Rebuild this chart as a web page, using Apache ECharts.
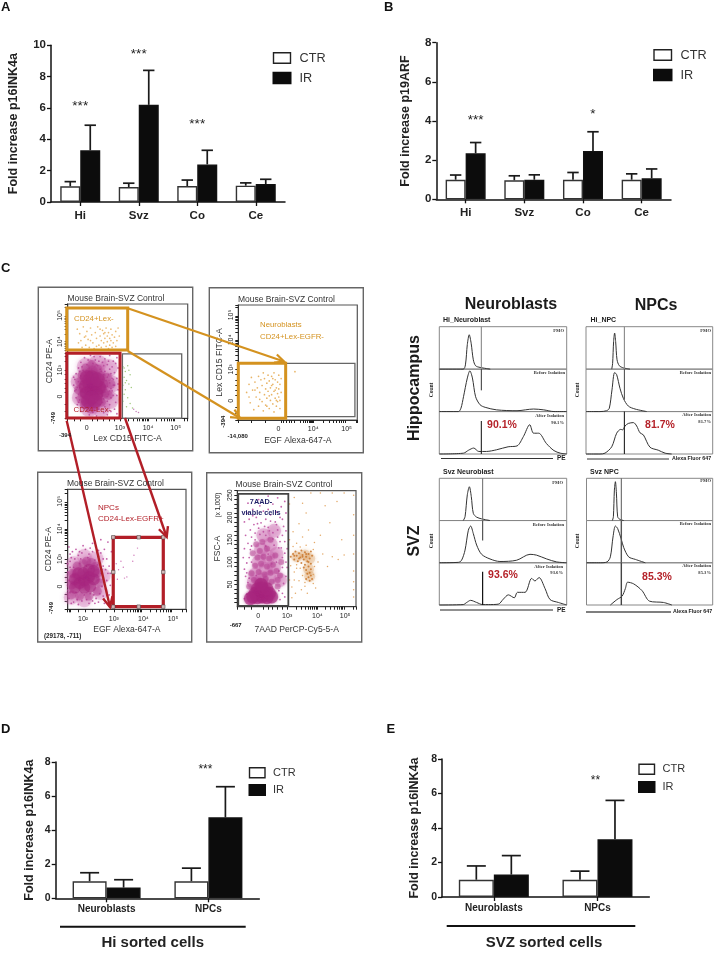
<!DOCTYPE html>
<html><head><meta charset="utf-8">
<style>html,body{margin:0;padding:0;background:#fff}#c{width:718px;height:954px}</style>
<script src="https://cdn.jsdelivr.net/npm/echarts@6/dist/echarts.min.js"></script>
</head><body><div id="c"></div>
<script>
// ---------- bar chart data ----------
const tissues = ['Hi','Svz','Co','Ce'];
const sorted = ['Neuroblasts','NPCs'];
const aCtr = [1.0,0.95,1.02,1.04], aCtrTop = [1.3,1.2,1.4,1.22];
const aIr  = [3.3,6.2,2.4,1.15],  aIrTop  = [4.9,8.4,3.3,1.45];
const bCtr = [1.0,0.97,1.0,1.0],  bCtrTop = [1.24,1.2,1.37,1.3];
const bIr  = [2.35,1.0,2.47,1.07],bIrTop  = [2.9,1.25,3.45,1.55];
const dCtr = [1.0,1.0],  dCtrTop = [1.5,1.77];
const dIr  = [0.63,4.75],dIrTop  = [1.09,6.55];
const eCtr = [1.0,1.0],  eCtrTop = [1.8,1.5];
const eIr  = [1.3,3.35], eIrTop  = [2.4,5.6];
const aStars = [[0,6.23,'***'],[1,9.55,'***'],[2,5.04,'***']];
const bStars = [[0,4.1,'***'],[2,4.4,'*']];
const dStars = [[1,7.62,'***']];
const eStars = [[1,6.85,'**']];

// ---------- FACS dots (axis units) ----------
const p1Orange = [[8,78],[10,74],[11,68],[13,80],[14,71],[15,64],[16,76],[17,69],[18,62],[19,79],[20,73],[21,66],[22,61],[23,75],[24,70],[25,80],[26,64],[27,72],[28,68],[28,62],[29,77],[30,74],[30,66],[31,70],[32,63],[32,79],[33,72],[33,67],[34,75],[34,61],[35,70],[35,64],[36,78],[36,68],[37,73],[37,62],[38,66],[39,71],[40,76],[40,63],[41,68],[42,79],[43,72],[12,62],[9,66],[24,63],[27,78],[31,75],[19,68],[15,72]];
const p1Halo = [[14,53],[19,55],[23,51],[27,54],[31,52],[35,55],[38,50],[41,53],[11,49],[16,47],[21,48],[25,46],[29,49],[33,47],[37,45],[40,48],[9,44],[13,42],[18,44],[27,43],[31,41],[35,43],[39,40],[42,44],[7,39],[11,37],[15,40],[30,38],[33,36],[36,39],[41,35],[6,34],[9,32],[13,35],[32,33],[35,31],[38,34],[42,30],[5,29],[8,27],[11,30],[33,28],[36,26],[39,29],[42,25],[6,24],[9,21],[12,25],[31,23],[34,21],[37,24],[41,20],[7,18],[10,16],[13,19],[30,17],[33,15],[36,18],[40,14],[8,12],[12,10],[15,13],[19,11],[23,14],[27,12],[31,10],[35,12],[39,8],[11,6],[16,7],[21,5],[26,8],[30,5],[36,6],[18,3],[24,2],[33,3],[41,4],[17,51],[22,54],[26,50],[30,46],[34,50],[20,43],[24,47],[28,41],[12,45],[10,41],[14,37],[29,34],[34,38],[37,35],[31,28],[38,29],[35,24],[33,19],[38,20],[29,14],[25,8],[32,7],[14,9],[18,7],[9,14],[7,25],[10,27],[5,36]];
const p1Wash = [[15,45],[25,48],[34,44],[10,32],[36,30],[11,18],[35,16],[18,9],[28,9],[24,40],[30,25]];
const p1Mid = [[12,38],[15,44],[20,47],[25,43],[28,37],[30,30],[31,22],[28,14],[23,10],[17,12],[11,17],[9,25],[10,32],[18,40],[24,37],[29,26],[14,12],[26,19],[33,36],[36,30],[34,20],[21,42],[16,34],[13,22],[19,8]];
const p1Core = [[20,25],[16,22],[24,22],[18,30],[23,30],[15,28],[26,27],[20,18],[17,15],[23,15],[20,36],[16,36],[25,34]];
const p1Green = [[46,45],[48,41],[50,46],[47,36],[52,38],[49,33],[46,29],[51,30],[48,25],[53,27],[47,21],[50,18],[46,15],[52,13],[49,10],[54,9],[47,44],[51,42],[48,31]];
const p1Purple = [[55,8],[57,6],[59,5]];
const p2Orange = [[7,24],[9,31],[10,15],[11,37],[12,26],[13,9],[14,33],[15,20],[16,28],[17,12],[17,38],[18,24],[19,35],[20,16],[20,30],[21,8],[21,41],[22,22],[22,36],[23,27],[23,13],[24,32],[24,19],[25,39],[25,25],[26,10],[26,34],[27,17],[27,28],[28,22],[28,38],[29,14],[29,31],[30,25],[30,7],[30,41],[31,19],[31,35],[32,28],[32,12],[33,23],[33,33],[33,16],[34,39],[34,27],[34,20],[35,10],[35,31],[36,24],[36,36],[18,18],[14,26],[9,20],[26,21],[29,36],[31,26],[32,17],[24,12],[28,30],[35,17],[47.6,42]];
const p3Core = [[6,25],[10,22],[14,24],[18,27],[22,25],[13,30],[18,33],[22,32],[9,30],[14,18],[19,19],[6,18]];
const p3Mid = [[3,20],[4,30],[8,36],[13,38],[20,39],[25,30],[27,22],[25,15],[18,11],[10,11],[3,12],[16,40],[24,36]];
const p3Wash = [[5,38],[14,44],[24,42],[30,28],[28,14],[14,8],[3,10],[4,26]];
const p3Halo = [[1,52],[2,46],[4,48],[6,42],[9,45],[12,47],[15,50],[18,46],[21,48],[24,52],[26,44],[28,47],[31,50],[33,42],[0,38],[2,40],[5,35],[11,42],[17,43],[23,41],[27,38],[30,36],[32,33],[34,30],[28,30],[30,25],[33,24],[29,19],[32,17],[27,13],[30,11],[24,9],[21,7],[26,6],[16,8],[12,7],[18,5],[8,8],[5,6],[1,9],[3,5],[0,16],[1,24],[0,31],[2,35],[36,20],[38,27],[31,5],[35,12],[22,12],[14,12],[7,14],[10,38],[20,34],[37,48],[34,56],[28,58],[21,55],[3,43],[7,50],[13,53],[19,51],[26,49],[30,42],[35,36],[25,37],[29,33],[36,30],[33,12],[19,13],[23,5],[9,4],[2,14],[10,48],[16,36]];
const p3Pink = [[41,38],[45,40],[43,33],[47,35],[55,40],[50,27],[42,25],[48,26],[59,51],[56,45]];
const p4Core = [[13,22],[17,20],[21,22],[25,20],[29,22],[15,30],[19,30],[23,32],[27,30],[17,40],[21,42],[25,40],[20,50],[11,18]];
const p4Wash = [[20,60],[27,65],[15,72],[24,85],[31,88],[18,100],[26,112],[33,118],[20,128],[28,140],[22,160],[31,170],[14,55],[36,60]];
const p4Mid = [[14,60],[19,58],[24,62],[29,56],[34,60],[12,75],[18,78],[23,72],[28,76],[33,80],[15,92],[20,96],[25,90],[30,94],[17,110],[22,112],[27,108],[32,115],[19,125],[25,130],[21,145],[28,150],[10,45],[34,45],[36,70],[37,100],[13,120],[16,140]];
const p4Halo = [[9,54],[7,68],[6,84],[8,98],[10,110],[11,128],[9,142],[12,156],[15,165],[11,172],[14,184],[18,176],[22,168],[26,178],[30,166],[34,172],[38,160],[40,146],[37,132],[40,120],[38,88],[41,68],[39,52],[35,132],[31,138],[24,160],[20,188],[16,200],[24,196],[28,206],[32,190],[36,200],[39,180],[41,210],[37,224],[30,230],[22,214],[13,218],[10,196],[7,160],[6,130],[9,232],[18,240],[34,244],[40,236],[26,248],[12,100],[26,118],[33,100],[5,110],[42,88],[42,130],[41,170],[29,96],[16,70],[35,36],[38,30],[40,22],[8,28],[6,18],[36,16],[15,150],[19,162],[23,180],[28,192],[33,184],[17,186],[12,136],[36,146],[38,110],[35,80],[41,100],[8,76],[10,64],[27,170],[30,152],[24,136],[34,156],[13,204],[19,226],[26,218],[33,212],[38,196],[6,190],[8,210]];
const p4OrangeWash = [[50,112],[57,116],[61,108],[60,84],[61,68]];
const p4OrangeCore = [[45,112],[47,118],[48,106],[49,124],[50,114],[51,102],[52,120],[53,110],[54,126],[54,98],[55,116],[56,106],[57,122],[57,94],[58,112],[59,102],[60,118],[61,108],[62,124],[62,96],[63,114],[56,88],[58,82],[60,90],[62,84],[59,74],[61,76],[60,66],[62,70],[58,62],[61,58],[63,62],[48,114],[52,108],[55,112],[58,118],[60,100]];
const p4OrangeSparse = [[44,60],[46,44],[48,78],[49,30],[50,86],[52,58],[54,38],[55,70],[57,46],[59,30],[64,52],[66,42],[68,100],[72,118],[76,90],[80,112],[85,106],[90,116],[44,150],[47,168],[50,142],[52,186],[55,156],[58,210],[60,172],[65,144],[70,160],[74,226],[78,188],[84,236],[88,150],[48,245],[55,232],[62,255],[70,255],[80,255],[90,255],[98,250],[98,206],[98,160],[98,118],[98,80],[98,56],[98,38],[98,22],[46,20],[43,140],[45,92],[44,230],[47,135],[53,134],[58,138],[64,128],[50,94],[53,86],[65,90],[64,72],[57,54],[48,60]];
const decades = {p1x:[15.8,43.5,67,90],p1y:[19,42,67,90],p2x:[33.7,47,63,91],p2y:[16.8,44,69.6,91.3],p3x:[3,39,62,89],p3y:[19,42,67,90],p4x:[17.6,42,67.5,90.8]};

// ---------- histogram traces: [x %, height %] ----------
const hiNb = [
 [[0,0],[18.8,0],[20.5,10],[22,58],[23.5,81],[25,61],[26.7,22],[28.5,8],[32,4],[40,0]],
 [[0,0],[15,0],[17,8],[19,35],[22,79],[24,96],[26,79],[28.5,35],[32,16],[36,10],[45,4],[61,2],[74,6],[82,4],[90,0],[100,0]],
 [[0,0],[19,2],[23,9],[27,14],[31,6],[37,6],[45,10],[54,17],[61,19],[66,41],[71,69],[74,49],[78,49],[84,25],[90,8],[95,2],[100,0]]];
const hiNpc = [
 [[20.3,0],[21,13],[21.8,65],[22.6,85],[23.4,65],[24.5,22],[26.3,8],[29.5,3],[34.7,0]],
 [[0,0],[11,0],[16.3,2],[18.4,8],[20.5,51],[22.6,92],[24.2,87],[26.8,55],[29.5,31],[33.4,13],[38.7,6],[47.9,0]],
 [[0,0],[11,0],[15,2],[20.3,17],[24.2,49],[27.4,58],[29,57],[30.8,66],[33.4,72],[37.4,74],[40,66],[42.6,50],[45.3,45],[50.5,16],[57,9],[62.4,2],[67.6,0]]];
const svNb = [
 [[18.8,0],[20.2,9],[22,61],[23.6,80],[25.1,57],[26.7,17],[29.3,8],[33.2,4],[39.8,0]],
 [[0,0],[15,1],[17.5,6],[20.2,30],[22.8,77],[24.6,87],[26.7,69],[29.3,42],[33.2,20],[39.8,9],[47.6,3],[60.7,6],[71.2,20],[76.4,18],[84.3,9],[92.1,2],[100,0]],
 [[0,0],[18.8,1],[21.5,6],[24.6,11],[29.3,6],[34,1],[38.5,1],[46.3,2],[50.3,14],[54.2,24],[58.9,17],[61.3,30],[67.3,30],[72.5,63],[75.1,57],[78.3,65],[83,39],[86.9,13],[93.5,6],[100,0]]];
const svNpc = [
 [[20.5,0],[21.3,9],[22.1,72],[22.9,92],[23.7,65],[24.7,9],[26.3,3],[29.5,0]],
 [[0,0],[11,0],[16.3,2],[18.9,14],[21,61],[22.9,87],[24.7,81],[27.4,57],[29.5,36],[33.4,14],[38.7,8],[46.6,0]],
 [[18.9,0],[24.2,13],[28.2,21],[30.8,39],[32.6,54],[37.4,50],[44,34],[50,9],[61,6],[67.6,0]]];

const F = 'Liberation Sans, Arial, sans-serif';
const S = 'Liberation Serif, serif';
const grids=[],xAxes=[],yAxes=[],series=[],legends=[];

function addBars(o){
  const g=grids.length;
  grids.push({left:o.l,top:o.t,width:o.w,height:o.h});
  xAxes.push({gridIndex:g,type:'category',data:o.cats,axisTick:{show:true,length:4,alignWithLabel:true,lineStyle:{color:'#111',width:1.3}},
    axisLine:{onZero:false,lineStyle:{color:'#111',width:1.5}},
    axisLabel:{color:'#222',fontFamily:F,fontWeight:'bold',fontSize:o.xfs,margin:o.xm}});
  yAxes.push({gridIndex:g,type:'value',min:0,max:o.max,interval:2,splitLine:{show:false},
    axisTick:{show:true,length:4,lineStyle:{color:'#111',width:1.3}},
    axisLine:{show:true,onZero:false,lineStyle:{color:'#111',width:1.5}},
    axisLabel:{color:'#222',fontFamily:F,fontWeight:'bold',fontSize:o.yfs,margin:5},
    name:o.yname,nameLocation:'middle',nameGap:o.ngap,nameRotate:90,
    nameTextStyle:{fontFamily:F,fontWeight:'bold',fontSize:o.nfs,color:'#222'}});
  const bar=(name,vals,col,bc)=>({type:'bar',name,xAxisIndex:g,yAxisIndex:g,data:vals,barWidth:o.bw,barGap:0,z:2,
    itemStyle:{color:col,borderColor:bc,borderWidth:1.4}});
  series.push(bar('CTR',o.ctr,'#fff','#333'),bar('IR',o.ir,'#0c0c0c','#111'));
  const err=(vals,tops,sign)=>({type:'custom',xAxisIndex:g,yAxisIndex:g,z:1,silent:true,
    data:vals.map((v,i)=>[i,v,tops[i]]),
    renderItem:(p,api)=>{
      const a=api.coord([api.value(0),api.value(1)]),b=api.coord([api.value(0),api.value(2)]);
      const x=a[0]+sign*o.bw/2;
      const st={stroke:'#1a1a1a',lineWidth:1.7,fill:'none'};
      return {type:'group',children:[
        {type:'line',shape:{x1:x,y1:a[1],x2:x,y2:b[1]},style:st},
        {type:'line',shape:{x1:x-o.cap,y1:b[1],x2:x+o.cap,y2:b[1]},style:st}]};
    }});
  series.push(err(o.ctr,o.ctrTop,-1),err(o.ir,o.irTop,1));
  series.push({type:'custom',xAxisIndex:g,yAxisIndex:g,silent:true,z:3,data:o.stars,
    encode:{x:0,y:1},
    renderItem:(p,api)=>{
      const c=api.coord([api.value(0),api.value(1)]);
      return {type:'text',x:c[0]+o.sdx,y:c[1]+1.5,style:{text:o.stars[p.dataIndex][2],fontFamily:F,fontSize:o.sfs,fill:'#222',align:'center',verticalAlign:'middle'}};
    }});
  legends.push({left:o.lg[0],top:o.lg[1],padding:0,orient:'vertical',itemWidth:o.lg[2],itemHeight:o.lg[3],itemGap:o.lg[4],selectedMode:false,
    icon:'rect',textStyle:{fontFamily:F,fontSize:o.lg[5],color:'#333',padding:[0,0,0,o.lg[6]]},
    data:[{name:'CTR',itemStyle:{color:'#fff',borderColor:'#222',borderWidth:1.4}},{name:'IR',itemStyle:{color:'#0c0c0c',borderColor:'#0c0c0c'}}]});
}
addBars({l:51,t:45.3,w:234,h:156.7,cats:tissues,max:10,ctr:aCtr,ctrTop:aCtrTop,ir:aIr,irTop:aIrTop,stars:aStars,sdx:0,bw:20,cap:5.7,xfs:11.5,xm:8,yfs:11.5,yname:'Fold increase p16INK4a',ngap:31,nfs:12.5,sfs:13.5,lg:[272.5,51.5,17,10.5,7,12.7,4]});
addBars({l:436.3,t:42.7,w:234.7,h:156.6,cats:tissues,max:8,ctr:bCtr,ctrTop:bCtrTop,ir:bIr,irTop:bIrTop,stars:bStars,sdx:10,bw:20,cap:5.7,xfs:11.5,xm:8,yfs:11.5,yname:'Fold increase p19ARF',ngap:24,nfs:12.5,sfs:13.5,lg:[653,48.5,17.5,10.5,7,12.7,4]});
addBars({l:55.7,t:762,w:203.6,h:136.3,cats:sorted,max:8,ctr:dCtr,ctrTop:dCtrTop,ir:dIr,irTop:dIrTop,stars:dStars,sdx:-3,bw:34,cap:9.5,xfs:10,xm:6,yfs:10.5,yname:'Fold increase p16INK4a',ngap:20,nfs:12.5,sfs:12,lg:[248.5,767,15.5,10,5.5,11,3]});
addBars({l:442,t:759,w:207.3,h:138,cats:sorted,max:8,ctr:eCtr,ctrTop:eCtrTop,ir:eIr,irTop:eIrTop,stars:eStars,sdx:-2,bw:35,cap:9.5,xfs:10,xm:6,yfs:10.5,yname:'Fold increase p16INK4a',ngap:21,nfs:12.5,sfs:12,lg:[638,763.5,15.5,10,6,11,3]});

// ---------- FACS panels ----------
function bio(d){
  const out=[0,100];
  const [z,d3,d4,d5]=d;
  for(let k=1;k<6;k++) out.push(z+(d3-z)*k/6);
  for(let k=1;k<3;k++) out.push(z-(z)*k/3);
  [[d3,d4],[d4,d5]].forEach(([a,b])=>{for(let k=1;k<=9;k++) out.push(a+(b-a)*Math.log10(k));});
  for(let k=2;k<5;k++) out.push(d5+(d5-d4)*Math.log10(k));
  return out.filter(v=>v>=0&&v<=100);
}
function panelAxis(g,kind,o){
  const common={gridIndex:g,type:'value',min:o.min,max:o.max,splitLine:{show:false},
    axisLine:{show:true,onZero:false,lineStyle:{color:'#333',width:1}},
    axisTick:{show:true,length:3,customValues:o.ticks,lineStyle:{color:'#222',width:1}},
    axisLabel:{customValues:o.labels.map(l=>l[0]),formatter:v=>{const f=o.labels.find(l=>Math.abs(l[0]-v)<1e-6);return f?f[1]:'';},
      color:'#222',fontFamily:F,fontSize:7,rotate:kind==='y'?90:0,margin:o.lm},
    name:o.name,nameLocation:'middle',nameGap:o.ng,nameTextStyle:{fontFamily:F,fontSize:o.nfs||8.6,color:'#333'}};
  if(kind==='y') common.nameRotate=90;
  return common;
}
function dots(g,data,col,size,op,blur){return {type:'scatter',xAxisIndex:g,yAxisIndex:g,data,symbolSize:size,silent:true,z:2,
  itemStyle:Object.assign({color:col,opacity:op},blur?{shadowBlur:blur,shadowColor:col}:{})};}
function gate(g,box,col,w){return {type:'custom',xAxisIndex:g,yAxisIndex:g,silent:true,z:4,data:[box],clip:false,
  renderItem:(p,api)=>{
    const a=api.coord([api.value(0),api.value(2)]),b=api.coord([api.value(1),api.value(3)]);
    return {type:'rect',shape:{x:a[0],y:b[1],width:b[0]-a[0],height:a[1]-b[1]},style:{fill:'none',stroke:col,lineWidth:w}};
  }};}
const sup=n=>'10'+{2:'\u00b2',3:'\u00b3',4:'\u2074',5:'\u2075'}[n];
function addPanel(p){
  const g=grids.length;
  grids.push({left:p.l,top:p.t,width:p.w,height:p.h,show:true,borderColor:'#555',borderWidth:1.2,backgroundColor:'#fff'});
  xAxes.push(panelAxis(g,'x',{min:0,max:100,ticks:bio(p.dx),labels:p.xl,lm:6,name:p.xn,ng:p.xg}));
  yAxes.push(panelAxis(g,'y',{min:0,max:p.ymax||100,ticks:p.yticks||bio(p.dy),labels:p.yl,lm:4,name:p.yn,ng:p.yg}));
  p.layers.forEach(l=>series.push(dots(g,l[0],l[1],l[2],l[3],l[4])));
  p.gates.forEach(b=>series.push(gate(g,b[0],b[1],b[2])));
  return g;
}
const ORANGE='#d4921f',RED='#b21e27',GRAY='#666';
addPanel({l:67.7,t:304,w:120,h:114.3,dx:decades.p1x,dy:decades.p1y,
  xl:[[15.8,'0'],[43.5,sup(3)],[67,sup(4)],[90,sup(5)]],yl:[[19,'0'],[42,sup(3)],[67,sup(4)],[90,sup(5)]],
  xn:'Lex CD15 FITC-A',xg:16,yn:'CD24 PE-A',yg:14,
  layers:[[p1Orange,'#eab566',1.7,.9],[p1Green,'#98c472',1.5,.9],[p1Purple,'#b563a8',1.5,.8],[p1Wash,'#cc66b0',18,.35,5],[p1Halo,'#b8469a',1.8,.8],[p1Mid,'#b33f92',9,.4,3],[p1Core,'#a8267f',14,.55,4]],
  gates:[[[45.6,95,0,56.4],GRAY,1.3],[[-0.8,50,59.8,96.5],ORANGE,3],[[-0.8,43.6,0.3,57],RED,3]]});
addPanel({l:238.3,t:305,w:119,h:115,dx:decades.p2x,dy:decades.p2y,
  xl:[[33.7,'0'],[63,sup(4)],[91,sup(5)]],yl:[[16.8,'0'],[44,sup(3)],[69.6,sup(4)],[91.3,sup(5)]],
  xn:'EGF Alexa-647-A',xg:16,yn:'Lex CD15 FITC-A',yg:14,
  layers:[[p2Orange,'#e6ac55',1.7,.9]],
  gates:[[[40,98,3,49.3],GRAY,1.3],[[0,39.8,1.5,49.3],ORANGE,3]]});
const p3g=addPanel({l:67.7,t:489.3,w:118.3,h:120,dx:decades.p3x,dy:decades.p3y,
  xl:[[13,sup(2)],[39,sup(3)],[64,sup(4)],[89,sup(5)]],yl:[[19,'0'],[42,sup(3)],[67,sup(4)],[90,sup(5)]],
  xn:'EGF Alexa-647-A',xg:16,yn:'CD24 PE-A',yg:15,
  layers:[[p3Pink,'#c456a8',1.4,.8],[p3Wash,'#cc66b0',15,.3,5],[p3Halo,'#b8469a',1.8,.85],[p3Mid,'#b33f92',9,.4,3],[p3Core,'#a8267f',12,.55,4]],
  gates:[[[38.5,80.8,2.2,60],RED,3.2]]});
series.push({type:'scatter',xAxisIndex:p3g,yAxisIndex:p3g,silent:true,z:5,symbol:'rect',symbolSize:3.5,
  itemStyle:{color:'#ddd',borderColor:'#444',borderWidth:.7},
  data:[[38.5,60],[60,60],[80.8,60],[38.5,31],[80.8,31],[38.5,2.2],[60,2.2],[80.8,2.2]]});
addPanel({l:237.3,t:490.7,w:118.7,h:116,dx:decades.p4x,ymax:260,yticks:[10,20,30,40,50,60,70,80,90,100,110,120,130,140,150,160,170,180,190,200,210,220,230,240,250,260],
  xl:[[17.6,'0'],[42,sup(3)],[67.5,sup(4)],[90.8,sup(5)]],yl:[[50,'50'],[100,'100'],[150,'150'],[200,'200'],[250,'250']],
  xn:'7AAD PerCP-Cy5-5-A',xg:18,yn:'FSC-A',yg:15,
  layers:[[p4OrangeSparse,'#df9a4e',1.5,.85],[p4OrangeWash,'#dba060',11,.3,4],[p4OrangeCore,'#c9762a',2,.85],[p4Wash,'#c860ad',14,.35,4],[p4Halo,'#bb4a9d',1.8,.85],[p4Mid,'#b33f92',6,.4,2],[p4Core,'#a8267f',13,.6,3]],
  gates:[[[0.8,43,2,253],'#444',1.8]]});

// ---------- histogram panels ----------
function addHist(box,traces,gx,segs){
  const rowH=(box.b-box.t)/3;
  traces.forEach((tr,i)=>{
    const g=grids.length;
    grids.push({left:box.l,top:box.t+i*rowH,width:box.r-box.l,height:rowH,show:true,borderColor:'#888',borderWidth:1});
    xAxes.push({gridIndex:g,type:'value',min:0,max:100,show:false});
    yAxes.push({gridIndex:g,type:'value',min:0,max:100,show:false});
    series.push({type:'line',xAxisIndex:g,yAxisIndex:g,data:tr,smooth:.3,showSymbol:false,silent:true,clip:false,
      lineStyle:{color:'#333',width:1}});
    const s=segs[i];
    series.push({type:'line',xAxisIndex:g,yAxisIndex:g,data:[[gx,s[0]],[gx,s[1]]],showSymbol:false,silent:true,clip:false,
      lineStyle:{color:s[2],width:s[3]}});
  });
}
addHist({l:439.3,r:566.7,t:326.7,b:454},hiNb,33,[[0,100,'#888',1.1],[50,100,'#333',1],[0,78,'#222',1.1]]);
addHist({l:586,r:712.7,t:326.7,b:454},hiNpc,30.3,[[0,100,'#888',1.1],[28,100,'#444',1],[0,100,'#222',1.1]]);
addHist({l:439.3,r:566.7,t:478.3,b:605},svNb,34,[[0,100,'#777',1.1],[53,100,'#555',1.2],[0,79,'#111',1.2]]);
addHist({l:586.5,r:712.7,t:478.3,b:605},svNpc,27.6,[[0,100,'#666',1.1],[0,100,'#555',1.4],[0,100,'#444',1.4]]);

// ---------- free text, frames and arrows ----------
const txt=(text,x,y,size,o={})=>({type:'text',x,y,rotation:o.rot?Math.PI/2:0,z:20,style:{text,fontFamily:o.fam||F,fontSize:size,fontWeight:o.w||'normal',fill:o.c||'#222',align:o.a||'left',verticalAlign:'middle'}});
const ln=(x1,y1,x2,y2,c,w)=>({type:'line',z:15,shape:{x1,y1,x2,y2},style:{stroke:c,lineWidth:w}});
function arrow(x1,y1,x2,y2,c,w,h){
  const a=Math.atan2(y2-y1,x2-x1),s=.45;
  return [ln(x1,y1,x2,y2,c,w),
    {type:'polyline',z:15,shape:{points:[[x2-h*Math.cos(a-s),y2-h*Math.sin(a-s)],[x2,y2],[x2-h*Math.cos(a+s),y2-h*Math.sin(a+s)]]},style:{stroke:c,lineWidth:w,fill:'none'}}];
}
const frame=(x1,y1,x2,y2)=>({type:'rect',z:1,shape:{x:x1,y:y1,width:x2-x1,height:y2-y1},style:{fill:'none',stroke:'#666',lineWidth:1.4}});
const TT='Mouse Brain-SVZ Control',HB='#1a1a1a',PCT='#b5232a';
const mini=(t,x,y)=>txt(t,x,y,4.6,{fam:S,w:'bold',a:'right',c:'#333'});
const graphics=[
  txt('A',1,7.5,13,{w:'bold',c:'#111'}),txt('B',384,7.5,13,{w:'bold',c:'#111'}),txt('C',1,268,13,{w:'bold',c:'#111'}),
  txt('D',1,729,13,{w:'bold',c:'#111'}),txt('E',386.5,729,13,{w:'bold',c:'#111'}),
  frame(38.3,287.3,192.7,450.7),frame(209.3,287.7,363.3,452.7),frame(37.7,472.3,191.7,642),frame(206.7,472.7,361.7,642),
  txt(TT,67.5,299,8.5,{c:'#333'}),txt(TT,238,299.5,8.5,{c:'#333'}),txt(TT,67,484,8.5,{c:'#333'}),txt(TT,235.5,485,8.5,{c:'#333'}),
  txt('CD24+Lex-',74,318.5,7.8,{c:ORANGE}),txt('CD24-Lex-',73.5,409.5,7.8,{c:RED}),
  txt('Neuroblasts',260,325,7.8,{c:ORANGE}),txt('CD24+Lex-EGFR-',260,336.7,7.8,{c:ORANGE}),
  txt('NPCs',98,507.3,8,{c:RED}),txt('CD24-Lex-EGFR+',98,519,8,{c:RED}),
  txt('7AAD-',261,501.7,7.3,{c:'#1e1e66',w:'bold',a:'center'}),txt('viable cells',261,513.3,7.3,{c:'#1e1e66',w:'bold',a:'center'}),
  txt('-394',65,435.7,6,{a:'center',w:'bold'}),txt('-749',53,418,6,{rot:1,a:'center',w:'bold'}),
  txt('-14,080',237.7,436.7,6,{a:'center',w:'bold'}),txt('-394',223,421.7,6,{rot:1,a:'center',w:'bold'}),
  txt('-749',51.7,608,6,{rot:1,a:'center',w:'bold'}),txt('(29178, -711)',44,636,6.3,{w:'bold'}),
  txt('-667',235.7,625,6,{a:'center',w:'bold'}),txt('(x 1,000)',218.3,505,6.3,{rot:1,a:'center'}),
  ...arrow(127.7,308.3,284,361.5,ORANGE,2.2,10),...arrow(127.7,351,240,418,ORANGE,2.2,10),
  ...arrow(66.7,420.7,110,607,RED,2.4,11),...arrow(125,418,166.7,537,RED,2.4,11),
  txt('Neuroblasts',511,305,16,{w:'bold',a:'center',c:HB}),txt('NPCs',656,306,16,{w:'bold',a:'center',c:HB}),
  txt('Hippocampus',415,388,16,{w:'bold',a:'center',rot:1,c:HB}),txt('SVZ',415,541,16,{w:'bold',a:'center',rot:1,c:HB}),
  txt('Hi_Neuroblast',443,320,7,{w:'bold'}),txt('Hi_NPC',590.5,320,7,{w:'bold'}),txt('Svz Neuroblast',443,472,7,{w:'bold'}),txt('Svz NPC',590,472,7,{w:'bold'}),
  txt('Count',432,390,5.5,{fam:S,w:'bold',a:'center',rot:1}),txt('Count',578,390,5.5,{fam:S,w:'bold',a:'center',rot:1}),
  txt('Count',432,541,5.5,{fam:S,w:'bold',a:'center',rot:1}),txt('Count',578,541,5.5,{fam:S,w:'bold',a:'center',rot:1}),
  mini('FMO',564,331),mini('Before Isolation',565,373),mini('After Isolation',564,416),mini('90.1%',564,422.5),
  mini('FMO',711,331),mini('Before Isolation',711,373),mini('After Isolation',711,415),mini('81.7%',711,422),
  mini('FMO',563,483),mini('Before Isolation',564,525),mini('After Isolation',563,567),mini('93.6%',563,573),
  mini('FMO',711,481),mini('Before Isolation',711,524),mini('After Isolation',711,566),mini('85.3%',711,573),
  txt('90.1%',502,425,10.5,{w:'bold',a:'center',c:PCT}),txt('81.7%',660,425,10.5,{w:'bold',a:'center',c:PCT}),
  txt('93.6%',503,575,10.5,{w:'bold',a:'center',c:PCT}),txt('85.3%',657,577,10.5,{w:'bold',a:'center',c:PCT}),
  ln(441,458.5,553,458.5,'#333',1),txt('PE',557,458.5,6.5,{w:'bold'}),
  ln(587,459,669,459,'#333',1),txt('Alexa Fluor 647',672,459,5.3,{w:'bold'}),
  ln(440,610,553,610,'#222',1.2),txt('PE',557,610,6.5,{w:'bold'}),
  ln(586,612,671,612,'#555',1.4),txt('Alexa Fluor 647',673,612,5.3,{w:'bold'}),
  ln(60,926.7,245.7,926.7,'#111',2),txt('Hi sorted cells',152.7,943,15,{w:'bold',a:'center'}),
  ln(446.7,926,635.3,926,'#111',2),txt('SVZ sorted cells',544,942.7,15,{w:'bold',a:'center'})
];
const chart=echarts.init(document.getElementById('c'),null,{renderer:'canvas'});
chart.setOption({animation:false,backgroundColor:'#fff',tooltip:{show:false},grid:grids,xAxis:xAxes,yAxis:yAxes,series,legend:legends,graphic:graphics});
</script></body></html>
